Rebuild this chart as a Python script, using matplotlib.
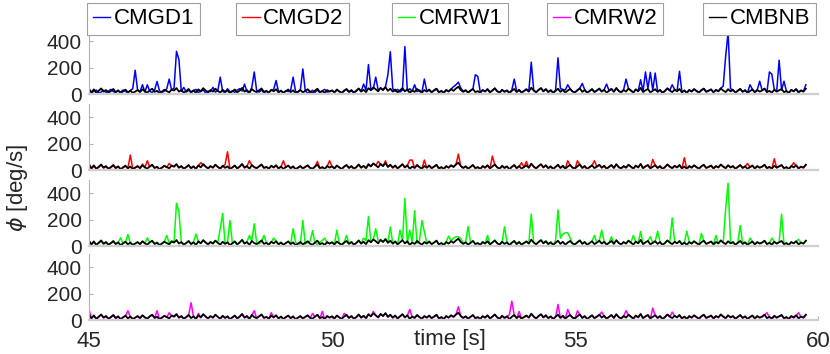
import numpy as np
import matplotlib
matplotlib.use("Agg")
import matplotlib.pyplot as plt

plt.rcParams['font.family'] = ['Liberation Sans', 'DejaVu Sans']

# ---------------- data ----------------
labels = ["CMGD1", "CMGD2", "CMRW1", "CMRW2", "CMBNB"]
colors = ["#0000ff", "#ff0000", "#00ff00", "#ff00ff", "#000000"]
t_start, t_end = 45.0, 59.75
xticks = [45, 50, 55, 60]
yticks = [0, 200, 400]

CMBNB = [
    40, 12, 35, 8, 25, 42, 18, 30, 10, 22, 38, 15, 28, 5, 20, 33, 12, 26, 8, 18,
    30, 14, 36, 20, 10, 28, 40, 16, 24, 6, 18, 32, 22, 12, 34, 26, 45, 18, 30, 10,
    22, 38, 14, 28, 8, 35, 20, 44, 26, 12, 30, 18, 40, 24, 10, 32, 16, 28, 6, 20,
    34, 12, 26, 46, 18, 30, 8, 38, 22, 14, 28, 42, 16, 24, 10, 32, 20, 36, 12, 26,
    8, 22, 34, 14, 28, 6, 18, 30, 12, 24, 36, 16, 10, 26, 40, 14, 22, 8, 30, 18,
    28, 12, 34, 20, 8, 26, 38, 16, 30, 10, 22, 42, 18, 32, 14, 44, 28, 50, 36, 20,
    46, 30, 52, 24, 40, 18, 34, 12, 28, 44, 20, 36, 8, 26, 16, 38, 22, 10, 30, 18,
    34, 14, 26, 40, 12, 22, 8, 30, 18, 36, 24, 42, 55, 30, 16, 28, 10, 24, 38, 14,
    22, 8, 30, 18, 36, 12, 26, 42, 20, 10, 32, 16, 28, 6, 24, 38, 14, 30, 10, 22,
    34, 18, 48, 26, 12, 30, 44, 20, 36, 14, 28, 8, 24, 40, 16, 32, 10, 26, 38, 18,
    12, 28, 42, 16, 30, 8, 22, 36, 14, 26, 40, 18, 32, 10, 24, 38, 16, 44, 22, 12,
    30, 18, 40, 26, 10, 34, 20, 46, 14, 28, 38, 12, 24, 36, 16, 30, 8, 22, 42, 26,
    14, 32, 20, 38, 12, 26, 8, 30, 18, 36, 22, 10, 28, 40, 16, 24, 34, 12, 30, 20,
    42, 26, 14, 36, 20, 30, 10, 24, 38, 16, 28, 8, 22, 34, 12, 30, 18, 26, 40, 14,
    24, 10, 32, 18, 28, 38, 14, 22, 8, 30, 20, 36, 12, 26, 18, 40,
]

CMGD1 = [
    25, 10, 20, 30, 8, 15, 28, 12, 22, 35, 18, 10, 25, 14, 30, 20, 8, 26, 40, 180,
    30, 18, 70, 15, 70, 20, 12, 30, 95, 25, 10, 22, 40, 113, 30, 45, 323, 262, 20, 50,
    15, 28, 10, 24, 35, 12, 20, 30, 8, 22, 18, 50, 14, 26, 128, 20, 10, 40, 16, 24,
    12, 30, 40, 22, 75, 18, 10, 50, 167, 25, 14, 30, 8, 20, 12, 28, 35, 102, 15, 22,
    10, 24, 18, 30, 128, 20, 12, 35, 190, 22, 8, 16, 28, 12, 30, 10, 24, 35, 14, 20,
    26, 12, 30, 18, 8, 22, 35, 14, 24, 10, 28, 40, 20, 75, 30, 223, 35, 40, 128, 30,
    45, 30, 55, 146, 320, 40, 20, 35, 15, 30, 359, 25, 40, 20, 70, 18, 30, 12, 113, 22,
    28, 12, 30, 40, 15, 25, 10, 32, 20, 38, 55, 70, 90, 45, 20, 30, 12, 28, 40, 146,
    133, 15, 30, 20, 38, 14, 28, 45, 22, 12, 30, 18, 26, 10, 30, 113, 20, 32, 12, 24,
    38, 20, 241, 30, 14, 32, 45, 22, 38, 16, 30, 10, 28, 274, 40, 35, 30, 70, 40, 20,
    14, 30, 45, 80, 32, 10, 24, 38, 16, 28, 42, 20, 34, 75, 26, 40, 18, 46, 24, 14,
    32, 113, 42, 28, 12, 36, 22, 108, 20, 167, 40, 164, 30, 159, 18, 32, 10, 24, 44, 28,
    70, 34, 22, 172, 14, 28, 10, 32, 20, 38, 24, 12, 30, 42, 18, 26, 36, 14, 32, 22,
    44, 60, 287, 467, 40, 32, 12, 26, 40, 18, 30, 10, 70, 36, 14, 32, 97, 28, 42, 16,
    167, 150, 34, 20, 256, 30, 97, 22, 10, 32, 22, 38, 14, 28, 20, 70,
]

CMGD2 = [
    50, 10, 30, 12, 20, 38, 15, 25, 8, 18, 34, 12, 26, 6, 18, 30, 14, 113, 10, 16,
    28, 12, 45, 18, 70, 24, 36, 14, 22, 8, 16, 30, 20, 50, 30, 24, 40, 16, 28, 8,
    20, 35, 12, 26, 10, 32, 55, 40, 24, 10, 28, 16, 38, 22, 8, 30, 40, 138, 10, 18,
    32, 10, 24, 44, 16, 28, 70, 36, 20, 12, 26, 40, 14, 22, 8, 30, 18, 34, 10, 24,
    70, 20, 32, 12, 26, 6, 16, 28, 10, 22, 34, 14, 8, 24, 65, 12, 20, 6, 28, 70,
    26, 10, 32, 18, 6, 24, 36, 14, 28, 8, 20, 40, 16, 30, 12, 42, 26, 48, 34, 65,
    44, 28, 70, 22, 38, 16, 32, 10, 26, 42, 18, 34, 75, 75, 14, 36, 20, 8, 75, 16,
    32, 12, 24, 38, 10, 20, 6, 28, 16, 34, 22, 40, 120, 28, 14, 26, 8, 22, 36, 12,
    20, 6, 28, 16, 34, 10, 105, 40, 18, 8, 30, 14, 26, 4, 22, 36, 12, 28, 55, 20,
    65, 16, 46, 24, 10, 28, 42, 18, 34, 12, 26, 6, 22, 38, 14, 30, 8, 70, 36, 16,
    10, 70, 40, 14, 28, 6, 20, 34, 70, 24, 38, 16, 30, 8, 22, 36, 14, 42, 20, 10,
    28, 16, 38, 24, 8, 32, 18, 44, 12, 26, 36, 10, 80, 34, 14, 28, 6, 20, 40, 24,
    12, 30, 18, 36, 10, 93, 6, 28, 16, 34, 20, 8, 26, 38, 14, 22, 32, 10, 28, 18,
    40, 24, 12, 34, 18, 28, 8, 22, 36, 14, 26, 50, 20, 32, 10, 28, 16, 24, 38, 12,
    22, 8, 85, 16, 26, 36, 12, 20, 6, 28, 55, 34, 10, 24, 16, 38,
]

CMRW1 = [
    30, 15, 25, 10, 20, 35, 12, 28, 8, 20, 30, 14, 25, 62, 18, 30, 87, 22, 10, 20,
    28, 14, 35, 20, 62, 25, 38, 16, 30, 10, 20, 34, 80, 22, 40, 30, 324, 260, 28, 12,
    24, 38, 16, 30, 90, 36, 22, 45, 28, 14, 32, 20, 42, 26, 131, 247, 20, 30, 193, 22,
    36, 14, 28, 48, 20, 32, 80, 40, 168, 24, 16, 34, 80, 26, 12, 30, 60, 38, 14, 28,
    10, 24, 36, 16, 131, 30, 8, 20, 193, 14, 26, 38, 116, 22, 12, 28, 42, 60, 24, 18,
    30, 14, 120, 22, 10, 28, 80, 18, 32, 12, 24, 42, 20, 60, 40, 222, 30, 50, 131, 38,
    48, 32, 55, 30, 143, 20, 36, 14, 120, 40, 361, 24, 120, 30, 267, 20, 40, 193, 110, 25,
    35, 14, 28, 42, 12, 24, 10, 32, 75, 38, 60, 70, 70, 55, 20, 30, 148, 24, 40, 16,
    24, 10, 32, 20, 80, 14, 28, 44, 22, 12, 34, 145, 30, 8, 26, 40, 16, 32, 12, 24,
    36, 20, 242, 28, 14, 32, 46, 22, 38, 16, 30, 10, 40, 274, 60, 90, 100, 100, 60, 20,
    14, 30, 44, 18, 32, 10, 24, 38, 80, 26, 40, 120, 32, 12, 26, 70, 18, 44, 24, 12,
    30, 18, 42, 26, 80, 34, 20, 110, 14, 28, 38, 70, 24, 36, 112, 30, 8, 22, 42, 26,
    213, 32, 20, 38, 12, 26, 112, 30, 18, 36, 22, 10, 95, 40, 16, 24, 34, 12, 80, 20,
    42, 26, 284, 476, 30, 20, 10, 24, 155, 16, 28, 8, 60, 34, 12, 30, 18, 26, 40, 14,
    24, 60, 32, 18, 28, 242, 14, 22, 8, 30, 20, 36, 50, 26, 18, 40,
]

CMRW2 = [
    80, 14, 32, 10, 22, 40, 16, 28, 6, 20, 36, 12, 24, 8, 20, 30, 70, 24, 6, 16,
    28, 12, 34, 18, 8, 26, 38, 14, 70, 6, 16, 30, 20, 55, 32, 24, 42, 16, 28, 8,
    20, 36, 131, 26, 6, 50, 18, 42, 24, 10, 28, 16, 38, 22, 8, 30, 14, 26, 4, 18,
    32, 10, 24, 44, 16, 28, 6, 36, 70, 12, 26, 40, 14, 22, 8, 55, 18, 34, 10, 24,
    6, 20, 32, 12, 26, 4, 16, 28, 10, 22, 34, 14, 50, 24, 38, 12, 65, 6, 28, 16,
    26, 10, 32, 18, 6, 50, 36, 14, 28, 8, 20, 40, 16, 30, 12, 42, 26, 65, 34, 18,
    44, 28, 50, 22, 38, 16, 32, 10, 26, 42, 18, 34, 80, 24, 14, 36, 20, 8, 28, 16,
    32, 12, 24, 38, 10, 20, 6, 28, 16, 34, 22, 40, 100, 28, 14, 26, 8, 22, 36, 12,
    20, 6, 28, 16, 34, 10, 24, 40, 18, 8, 30, 14, 26, 40, 143, 36, 12, 65, 10, 20,
    32, 16, 46, 24, 10, 28, 42, 18, 34, 12, 26, 6, 22, 118, 14, 30, 8, 80, 36, 16,
    10, 70, 40, 14, 28, 6, 20, 34, 12, 24, 38, 60, 30, 8, 22, 36, 14, 42, 20, 10,
    28, 70, 38, 24, 8, 32, 18, 44, 12, 26, 36, 10, 90, 34, 14, 28, 6, 20, 40, 24,
    60, 30, 18, 36, 10, 24, 6, 28, 16, 34, 20, 8, 26, 38, 14, 22, 32, 10, 28, 18,
    40, 24, 12, 34, 18, 28, 8, 22, 36, 14, 26, 6, 20, 32, 10, 28, 16, 24, 38, 55,
    22, 8, 30, 16, 26, 36, 12, 20, 6, 28, 14, 34, 55, 24, 16, 38,
]

series = [CMGD1, CMGD2, CMRW1, CMRW2]
t = np.linspace(t_start, t_end, len(CMBNB))

# ---------------- layout ----------------
W, H = 830, 354
fig = plt.figure(figsize=(W / 100, H / 100), dpi=100)
left_px, right_px = 89, 818
bottoms_px = [94, 170, 246, 320]
height_px = 66
spine_gray = "#b4b4b4"
text_gray = "#262626"

handles = []
black_handle = None
for k, (ys, col) in enumerate(zip(series, colors[:4])):
    ax = fig.add_axes([left_px / W, 1 - bottoms_px[k] / H,
                       (right_px - left_px) / W, height_px / H])
    h, = ax.plot(t, ys, color=col, lw=1.1)
    hb, = ax.plot(t, CMBNB, color="black", lw=1.3)
    handles.append(h)
    black_handle = hb
    ax.set_xlim(45, 60)
    ax.set_ylim(0, 500)
    ax.set_yticks(yticks)
    ax.set_xticks(xticks)
    for s in ["top", "right"]:
        ax.spines[s].set_visible(False)
    ax.spines["left"].set_color(spine_gray)
    ax.spines["left"].set_linewidth(0.8)
    ax.spines["bottom"].set_color("#cfcfcf")
    ax.spines["bottom"].set_linewidth(1.6)
    ax.tick_params(axis="y", direction="in", length=3, width=0.8,
                   color=spine_gray, labelsize=15, labelcolor=text_gray, pad=5)
    if k < 3:
        ax.tick_params(axis="x", length=0, labelbottom=False)
    else:
        ax.tick_params(axis="x", direction="in", length=3, width=0.8,
                       color=spine_gray, labelsize=16, labelcolor=text_gray, pad=8)
    ax.patch.set_alpha(0)

# legend boxes
handles.append(black_handle)
centers_px = [143.5, 292.5, 450, 605, 759.5]
for h, lab, cx in zip(handles, labels, centers_px):
    lg = fig.legend([h], [lab], loc="center", bbox_to_anchor=(cx / W, 1 - 19 / H),
                    fontsize=16, frameon=True, fancybox=False, framealpha=1,
                    edgecolor="#a0a0a0", handlelength=0.8, handletextpad=0.15,
                    borderpad=0.25, borderaxespad=0)
    lg.get_frame().set_linewidth(0.8)
    for line in lg.get_lines():
        line.set_linewidth(1.0)

fig.text(17 / W, 1 - 188 / H, r"$\phi$ [deg/s]", rotation=90, ha="center",
         va="center", fontsize=16, color=text_gray)
fig.text(450 / W, 1 - 339 / H, "time [s]", ha="center", va="center",
         fontsize=16, color=text_gray)

fig.savefig("out.png", dpi=100)
